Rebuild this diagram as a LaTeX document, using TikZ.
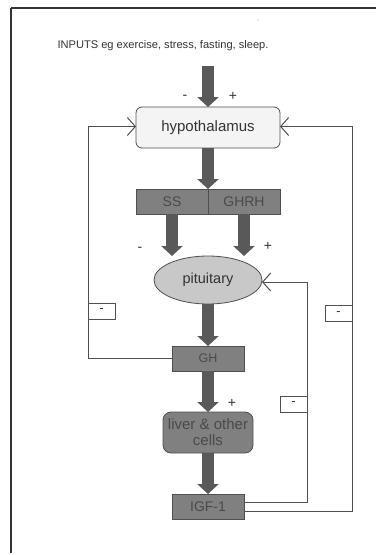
\documentclass[tikz,border=0pt]{standalone}
\usepackage{fontspec}
\setmainfont{Liberation Sans}
\usetikzlibrary{arrows.meta,shapes.geometric,calc}
\definecolor{arrowgray}{HTML}{595959}
\definecolor{boxgray}{HTML}{808080}
\definecolor{edgegray}{HTML}{505050}
\definecolor{txtgray}{HTML}{333333}
\definecolor{intxt}{HTML}{4A4A4A}
\definecolor{lightfill}{HTML}{F4F4F4}
\definecolor{pitfill}{HTML}{C8C8C8}
\tikzset{
  lbl/.style={font=\fontsize{14}{16}\selectfont, text=txtgray, inner sep=0pt},
  darkbox/.style={draw=edgegray, line width=0.8pt, fill=boxgray, text=intxt, font=\fontsize{14}{16}\selectfont,
    minimum width=72pt, minimum height=25pt, inner sep=0pt, outer sep=0pt},
  hypbox/.style={draw=edgegray, line width=0.8pt, fill=lightfill, rounded corners=6pt, text=txtgray,
    font=\fontsize{15}{17}\selectfont, minimum width=144pt, minimum height=41pt, inner sep=0pt, outer sep=0pt},
  pitnode/.style={ellipse, draw=edgegray, line width=0.8pt, fill=pitfill, text=txtgray,
    font=\fontsize{14.5}{16}\selectfont, minimum width=108pt, minimum height=48pt, inner sep=0pt, outer sep=0pt},
  liverbox/.style={draw=edgegray, line width=0.8pt, fill=boxgray, rounded corners=8pt, text=intxt,
    font=\fontsize{15}{16}\selectfont, align=center, minimum width=90pt, minimum height=41pt, inner sep=0pt, outer sep=0pt},
  minusbox/.style={draw=edgegray, line width=0.7pt, fill=white, text=txtgray, font=\fontsize{13}{14}\selectfont,
    minimum width=27pt, minimum height=16pt, inner sep=0pt, outer sep=0pt},
  bigarrow/.style={draw=arrowgray, line width=12pt, -{Triangle[width=21pt,length=10pt]}},
  fb/.style={draw=edgegray, line width=0.9pt, -{Straight Barb[length=8pt,width=18pt,line width=1pt]}},
}
\begin{document}
\begin{tikzpicture}[x=1pt,y=-1pt]
\useasboundingbox (0,0) rectangle (376,555);
% frame
\draw[txtgray, line width=1.5pt] (11,8) -- (376,8);
\draw[txtgray, line width=2.2pt] (11,8) -- (11,553);
\fill[gray!60] (258,20) circle (0.7pt);

% title
\node[lbl, font=\fontsize{11.1}{13}\selectfont] (inputs) at (163,46) {INPUTS eg exercise, stress, fasting, sleep.};

% main nodes
\node[hypbox] (hyp) at (208,127.5) {hypothalamus};
\node[darkbox] (ss) at (172,201.5) {SS};
\node[darkbox] (ghrh) at (244,201.5) {GHRH};
\node[pitnode] (pit) at (208,280) {pituitary};
\node[darkbox, font=\fontsize{12.5}{14}\selectfont] (gh) at (208,358.5) {GH};
\node[liverbox] (liver) at (208,432.5) {liver \& other\\cells};
\node[darkbox] (igf) at (208,506.5) {IGF-1};

% big arrows
\coordinate (top) at (208,66);
\draw[bigarrow] (top) -- (hyp.north);
\draw[bigarrow] (hyp.south) -- (hyp.south |- ss.north);
\draw[bigarrow] (ss.south) -- (ss.south |- pit.north);
\draw[bigarrow] (ghrh.south) -- (ghrh.south |- pit.north);
\draw[bigarrow] (pit.south) -- (gh.north);
\draw[bigarrow] (gh.south) -- (liver.north);
\draw[bigarrow] (liver.south) -- (igf.north);

% signs
\node[lbl] (s1) at (185,97) {-};
\node[lbl] (s2) at (233,96) {+};
\node[lbl] (s3) at (140,249) {-};
\node[lbl] (s4) at (268,246) {+};
\node[lbl] (s5) at (232,403) {+};

% feedback loops
\coordinate (xl) at (88,0);
\coordinate (xp) at (307,0);
\coordinate (xr) at (352,0);
\coordinate (igfa) at ($(igf.east)+(0,-4.5)$);
\coordinate (igfb) at ($(igf.east)+(0,4.5)$);
\coordinate (hypl) at ($(hyp.west)+(0,-1)$);
\coordinate (hypr) at ($(hyp.east)+(0,-1)$);
\coordinate (pitr) at ($(pit.east)+(0,2)$);

\draw[fb] (gh.west) -| (xl |- hypl) -- (hypl);
\draw[fb] (igfa) -| (xp |- pitr) -- (pitr);
\draw[fb] (igfb) -| (xr |- hypr) -- (hypr);

% minus boxes
\node[minusbox] (m1) at (101.5,311) {-};
\node[minusbox] (m2) at (293.5,404) {-};
\node[minusbox] (m3) at (338.5,313.5) {-};
\end{tikzpicture}
\end{document}
